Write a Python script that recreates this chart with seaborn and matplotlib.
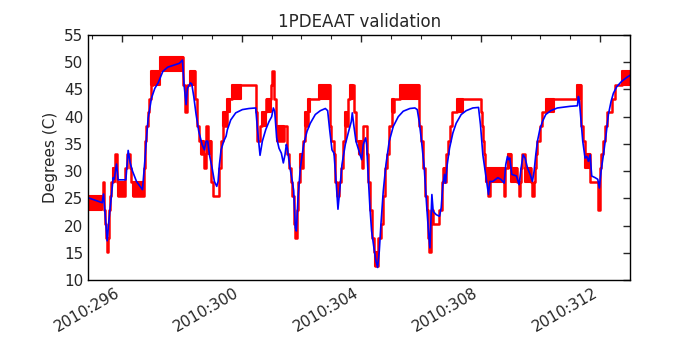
import numpy as np
import pandas as pd
import seaborn as sns
import matplotlib
matplotlib.use("Agg")
import matplotlib.pyplot as plt
from matplotlib.ticker import MultipleLocator, FuncFormatter

# model (blue): day-of-year 2010, degrees C
model_day = [294.863, 295.331, 295.376, 295.443, 295.498, 295.554, 295.621, 295.699, 295.733, 295.811,
             295.866, 296.123, 296.201, 296.268, 296.346, 296.480, 296.680, 296.758, 296.814, 296.870,
             296.981, 297.093, 297.204, 297.360, 297.527, 297.750, 297.917, 298.018, 298.073, 298.140,
             298.185, 298.285, 298.330, 298.397, 298.475, 298.564, 298.675, 298.754, 298.809, 298.865,
             298.921, 299.010, 299.088, 299.166, 299.211, 299.255, 299.311, 299.400, 299.478, 299.522,
             299.634, 299.801, 300.024, 300.247, 300.470, 300.526, 300.615, 300.693, 300.805, 300.916,
             301.005, 301.061, 301.106, 301.172, 301.250, 301.329, 301.395, 301.451, 301.496, 301.529,
             301.618, 301.696, 301.742, 301.797, 301.831, 301.887, 301.965, 302.076, 302.188, 302.299,
             302.466, 302.634, 302.801, 302.879, 302.946, 303.024, 303.091, 303.169, 303.224, 303.280,
             303.358, 303.470, 303.581, 303.670, 303.704, 303.759, 303.826, 303.916, 304.016, 304.071,
             304.150, 304.183, 304.239, 304.294, 304.350, 304.428, 304.495, 304.551, 304.607, 304.662,
             304.740, 304.830, 304.941, 305.075, 305.242, 305.409, 305.632, 305.799, 305.878, 305.944,
             306.022, 306.112, 306.190, 306.245, 306.301, 306.368, 306.412, 306.513, 306.624, 306.680,
             306.736, 306.791, 306.825, 306.881, 306.959, 307.070, 307.182, 307.349, 307.516, 307.739,
             307.929, 307.995, 308.074, 308.152, 308.218, 308.263, 308.308, 308.408, 308.575, 308.675,
             308.787, 308.842, 308.898, 308.932, 308.976, 309.043, 309.199, 309.288, 309.355, 309.422,
             309.489, 309.567, 309.656, 309.734, 309.790, 309.846, 309.902, 309.980, 310.069, 310.180,
             310.347, 310.570, 310.849, 310.995, 311.240, 311.273, 311.307, 311.363, 311.418, 311.496,
             311.552, 311.608, 311.664, 311.719, 311.831, 311.920, 311.976, 312.032, 312.110, 312.199,
             312.277, 312.366, 312.444, 312.556, 312.723, 312.890, 313.001]
model_val = [25.1, 24.2, 25.8, 21.0, 17.2, 20.8, 24.4, 28.8, 28.5, 31.3,
             28.4, 28.4, 33.8, 31.5, 30.0, 28.1, 26.6, 31.8, 36.1, 39.7,
             43.4, 45.2, 46.2, 48.3, 49.1, 49.5, 49.8, 50.4, 45.8, 42.2,
             45.2, 46.2, 46.0, 43.7, 40.4, 37.3, 34.9, 33.9, 35.5, 35.5,
             33.0, 30.6, 28.1, 27.2, 28.1, 31.2, 33.9, 35.5, 36.4, 37.6,
             39.4, 40.7, 41.3, 41.5, 41.6, 37.9, 32.9, 35.5, 37.6, 39.1,
             40.0, 41.6, 41.0, 36.1, 34.2, 33.3, 31.5, 33.0, 34.9, 34.2,
             30.6, 28.1, 26.4, 19.6, 19.0, 25.1, 30.6, 34.9, 37.3, 38.8,
             40.4, 41.1, 41.5, 41.1, 37.6, 33.9, 33.3, 27.5, 23.0, 26.3,
             31.2, 34.9, 37.3, 39.1, 40.7, 38.2, 35.5, 33.9, 32.1, 34.9,
             36.1, 34.9, 28.8, 23.3, 19.0, 15.9, 13.5, 12.3, 15.3, 20.2,
             26.3, 31.2, 35.5, 38.2, 40.0, 41.0, 41.5, 41.6, 41.3, 39.1,
             35.5, 30.6, 23.9, 19.6, 15.9, 25.7, 22.6, 22.0, 21.7, 23.3,
             27.5, 29.4, 27.8, 31.2, 34.2, 37.0, 38.8, 40.4, 41.1, 41.6,
             41.7, 38.5, 33.0, 30.0, 27.5, 25.7, 28.1, 28.1, 28.8, 28.5,
             27.8, 31.2, 32.7, 32.1, 32.4, 29.4, 29.1, 27.5, 30.6, 33.0,
             32.4, 30.6, 29.4, 28.1, 30.0, 33.0, 35.5, 37.6, 39.1, 40.4,
             41.1, 41.6, 41.8, 41.9, 42.0, 43.7, 42.8, 39.1, 35.5, 32.4,
             32.7, 31.8, 33.0, 29.1, 28.8, 28.5, 26.9, 30.0, 33.0, 36.7,
             40.4, 42.8, 44.3, 45.5, 46.5, 47.2, 47.6]

# telemetry (red): quantized steps, level holds until next time
tlm_day = [294.863, 295.33, 295.36, 295.40, 295.44, 295.47, 295.49, 295.53, 295.55, 295.57,
           295.60, 295.64, 295.68, 295.76, 295.84, 295.87, 296.11, 296.17, 296.25, 296.30,
           296.37, 296.74, 296.77, 296.80, 296.85, 296.90, 296.96, 297.03, 297.27, 298.05,
           298.09, 298.12, 298.16, 298.28, 298.45, 298.50, 298.56, 298.64, 298.75, 298.81,
           298.89, 298.98, 299.05, 299.23, 299.31, 299.37, 299.50, 299.69, 300.47, 300.50,
           300.53, 300.61, 300.69, 300.80, 300.97, 301.03, 301.08, 301.14, 301.19, 301.42,
           301.51, 301.58, 301.64, 301.70, 301.74, 301.80, 301.84, 301.89, 301.96, 302.05,
           302.13, 302.22, 302.58, 302.95, 303.00, 303.08, 303.14, 303.19, 303.25, 303.31,
           303.38, 303.47, 303.56, 303.64, 303.76, 303.83, 303.92, 304.02, 304.07, 304.18,
           304.24, 304.29, 304.35, 304.43, 304.46, 304.57, 304.65, 304.72, 304.80, 304.85,
           304.94, 305.02, 305.11, 305.30, 305.94, 306.02, 306.08, 306.13, 306.19, 306.25,
           306.28, 306.33, 306.40, 306.62, 306.70, 306.74, 306.79, 306.85, 306.90, 306.96,
           307.04, 307.22, 307.41, 308.00, 308.04, 308.07, 308.11, 308.15, 308.26, 308.30,
           308.79, 308.82, 308.90, 309.01, 309.23, 309.27, 309.32, 309.34, 309.40, 309.49,
           309.68, 309.71, 309.79, 309.82, 309.87, 309.90, 309.98, 310.07, 310.18, 311.24,
           311.35, 311.41, 311.50, 311.66, 311.92, 312.00, 312.03, 312.08, 312.17, 312.22,
           312.39, 312.50, 312.72, 313.0]
tlm_val = [25.4, 25.4, 28.0, 22.8, 20.3, 17.7, 15.2, 17.7, 20.3, 22.8,
           25.4, 28.0, 30.5, 33.1, 28.0, 25.4, 30.5, 33.1, 30.5, 28.0,
           25.4, 30.5, 35.6, 38.2, 40.8, 43.3, 45.9, 48.4, 51.0, 45.9,
           43.3, 40.8, 45.9, 48.4, 43.3, 38.2, 35.6, 33.1, 30.5, 38.2,
           35.6, 28.0, 25.4, 30.5, 35.6, 38.2, 43.3, 45.9, 40.8, 38.2,
           35.6, 38.2, 40.8, 43.3, 45.9, 48.4, 43.3, 38.2, 35.6, 38.2,
           33.1, 30.5, 28.0, 25.4, 20.3, 17.7, 22.8, 28.0, 30.5, 35.6,
           38.2, 43.3, 45.9, 38.2, 35.6, 33.1, 28.0, 25.4, 28.0, 30.5,
           35.6, 38.2, 43.3, 45.9, 40.8, 35.6, 33.1, 30.5, 38.2, 33.1,
           28.0, 22.8, 17.7, 15.2, 12.6, 17.7, 20.3, 25.4, 30.5, 33.1,
           38.2, 40.8, 43.3, 45.9, 38.2, 35.6, 30.5, 25.4, 22.8, 17.7,
           15.2, 22.8, 20.3, 22.8, 28.0, 30.5, 28.0, 33.1, 35.6, 38.2,
           40.8, 43.3, 43.3, 40.8, 38.2, 35.6, 33.1, 30.5, 25.4, 30.5,
           25.4, 30.5, 33.1, 30.5, 28.0, 25.4, 28.0, 30.5, 33.1, 30.5,
           28.0, 25.4, 28.0, 30.5, 33.1, 35.6, 38.2, 40.8, 43.3, 45.9,
           38.2, 35.6, 33.1, 28.0, 22.8, 30.5, 33.1, 35.6, 38.2, 40.8,
           43.3, 45.9, 48.4, 48.4]

# telemetry dithering between two adjacent levels: start, end, low, high
band_start = [294.863, 295.68, 295.87, 296.37, 296.96, 297.27, 298.28, 298.64, 298.89, 299.37,
              299.50, 299.69, 300.69, 300.86, 301.19, 301.96, 302.13, 302.22, 302.58, 303.47,
              303.64, 303.92, 304.46, 305.02, 305.30, 306.79, 307.22, 308.19, 308.90, 309.01,
              309.49, 310.18, 311.24, 311.50, 312.72]
band_end = [295.33, 295.75, 296.11, 296.74, 297.27, 298.05, 298.45, 298.75, 298.98, 299.50,
            299.61, 299.97, 300.80, 300.97, 301.42, 302.05, 302.22, 302.30, 302.95, 303.56,
            303.72, 304.02, 304.57, 305.11, 305.94, 306.85, 307.41, 308.79, 309.01, 309.23,
            309.68, 310.46, 311.35, 311.66, 313.0]
band_low = [22.8, 28.0, 25.4, 25.4, 45.9, 48.4, 45.9, 33.1, 33.1, 38.2,
            40.8, 43.3, 38.2, 40.8, 35.6, 30.5, 38.2, 40.8, 43.3, 38.2,
            43.3, 33.1, 12.6, 40.8, 43.3, 28.0, 40.8, 28.0, 30.5, 28.0,
            28.0, 40.8, 43.3, 30.5, 45.9]
band_high = [25.4, 30.5, 28.0, 28.0, 48.4, 51.0, 48.4, 35.6, 35.6, 40.8,
             43.3, 45.9, 40.8, 43.3, 38.2, 33.1, 40.8, 43.3, 45.9, 40.8,
             45.9, 35.6, 15.2, 43.3, 45.9, 30.5, 43.3, 30.5, 33.1, 30.5,
             30.5, 43.3, 45.9, 33.1, 48.4]

model = pd.DataFrame({"day": model_day, "temp": model_val})
tlm = pd.DataFrame({"day": tlm_day, "temp": tlm_val})

sns.set_style("white")
plt.rcParams["font.family"] = ["DejaVu Sans"]

fig = plt.figure(figsize=(7, 3.5), dpi=100)
ax = fig.add_axes([0.126, 0.2, 0.774, 0.7])

for t0, t1, lo, hi in zip(band_start, band_end, band_low, band_high):
    ax.fill_between([t0, t1], [lo, lo], [hi, hi], color="red", linewidth=1.5, edgecolor="red")
sns.lineplot(data=tlm, x="day", y="temp", ax=ax, color="red", linewidth=1.8,
             drawstyle="steps-post", estimator=None)
sns.lineplot(data=model, x="day", y="temp", ax=ax, color="blue", linewidth=1.2, estimator=None)

ax.set_xlim(294.863, 313.0)
ax.set_ylim(10, 55)
ax.yaxis.set_major_locator(MultipleLocator(5))
ax.xaxis.set_major_locator(MultipleLocator(4))
ax.xaxis.set_minor_locator(MultipleLocator(1))
ax.xaxis.set_major_formatter(FuncFormatter(lambda d, p: "2010:%03d" % int(round(d))))
ax.tick_params(which="both", direction="in", top=True, right=True, labelsize=11)
ax.tick_params(which="major", length=5, width=1)
ax.tick_params(which="minor", length=3, width=0.8)
for s in ax.spines.values():
    s.set_linewidth(1.0)
    s.set_color("black")
for lab in ax.get_xticklabels():
    lab.set_rotation(30)
    lab.set_ha("right")

ax.set_title("1PDEAAT validation", fontsize=12)
ax.set_xlabel("")
ax.set_ylabel("Degrees (C)", fontsize=11)

fig.savefig("out.png", dpi=100)
